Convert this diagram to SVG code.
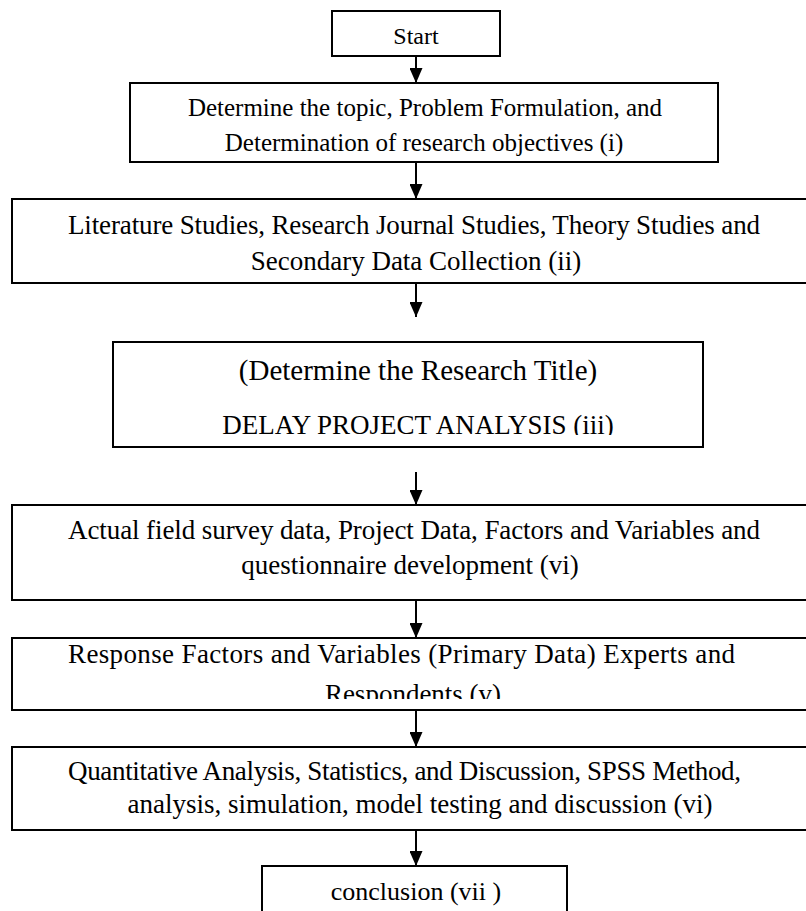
<svg xmlns="http://www.w3.org/2000/svg" width="806" height="911" viewBox="0 0 806 911">
  <style>
    .box { fill: #ffffff; stroke: #000000; stroke-width: 2; }
    .t { font-family: "Liberation Serif", "Times New Roman", serif; font-size: 25px; fill: #000000; text-anchor: middle; }
    .wide { font-size: 27px; }
    .lead { text-anchor: start; }
    .flow { stroke: #000000; stroke-width: 2; fill: none; marker-end: url(#head); }
  </style>
  <defs>
    <marker id="head" markerUnits="userSpaceOnUse" markerWidth="15" markerHeight="13" refX="15" refY="6.5" orient="auto" viewBox="0 0 15 13">
      <path d="M0,0 L15,6.5 L0,13 z" fill="#000000"/>
    </marker>
    <clipPath id="clip-title"><rect x="113" y="342" width="590" height="93"/></clipPath>
    <clipPath id="clip-response"><rect x="12" y="638" width="800" height="61"/></clipPath>
  </defs>
  <rect width="806" height="911" fill="#ffffff"/>

  <g id="connectors">
    <path class="flow" d="M416,56 V83"/>
    <path class="flow" d="M416,162 V199"/>
    <path class="flow" d="M416,283 V317"/>
    <path class="flow" d="M416,472 V505"/>
    <path class="flow" d="M416,600 V638"/>
    <path class="flow" d="M416,710 V747"/>
    <path class="flow" d="M416,830 V866"/>
  </g>

  <g id="start">
    <rect class="box" x="332" y="11" width="168" height="45"/>
    <text class="t" x="416" y="44" style="font-size:24px">Start</text>
  </g>

  <g id="step-i">
    <rect class="box" x="130" y="83" width="588" height="79"/>
    <text class="t" x="425" y="116">Determine the topic, Problem Formulation, and</text>
    <text class="t" x="424" y="151">Determination of research objectives (i)</text>
  </g>

  <g id="step-ii">
    <rect class="box" x="12" y="199" width="810" height="84"/>
    <text class="t wide lead" x="68" y="234" textLength="692" lengthAdjust="spacing">Literature Studies, Research Journal Studies, Theory Studies and</text>
    <text class="t wide" x="416" y="270">Secondary Data Collection (ii)</text>
  </g>

  <g id="step-iii">
    <rect class="box" x="113" y="342" width="590" height="105"/>
    <text class="t" x="418" y="380" style="font-size:29px">(Determine the Research Title)</text>
    <text class="t" x="418" y="434" style="font-size:27px" clip-path="url(#clip-title)">DELAY PROJECT ANALYSIS (iii)</text>
  </g>

  <g id="step-iv">
    <rect class="box" x="12" y="505" width="810" height="95"/>
    <text class="t wide lead" x="68" y="539" textLength="692" lengthAdjust="spacing">Actual field survey data, Project Data, Factors and Variables and</text>
    <text class="t wide" x="410" y="574">questionnaire development (vi)</text>
  </g>

  <g id="step-v">
    <rect class="box" x="12" y="638" width="810" height="72"/>
    <text class="t wide lead" x="68" y="663" textLength="667" lengthAdjust="spacing">Response Factors and Variables (Primary Data) Experts and</text>
    <text class="t wide" x="413" y="703" clip-path="url(#clip-response)">Respondents (v)</text>
  </g>

  <g id="step-vi">
    <rect class="box" x="12" y="747" width="810" height="83"/>
    <text class="t wide lead" x="68" y="780" textLength="673" lengthAdjust="spacing">Quantitative Analysis, Statistics, and Discussion, SPSS Method,</text>
    <text class="t wide" x="420" y="813">analysis, simulation, model testing and discussion (vi)</text>
  </g>

  <g id="conclusion">
    <rect class="box" x="262" y="866" width="305" height="60"/>
    <text class="t" x="416" y="900" style="font-size:26px">conclusion (vii )</text>
  </g>
</svg>
